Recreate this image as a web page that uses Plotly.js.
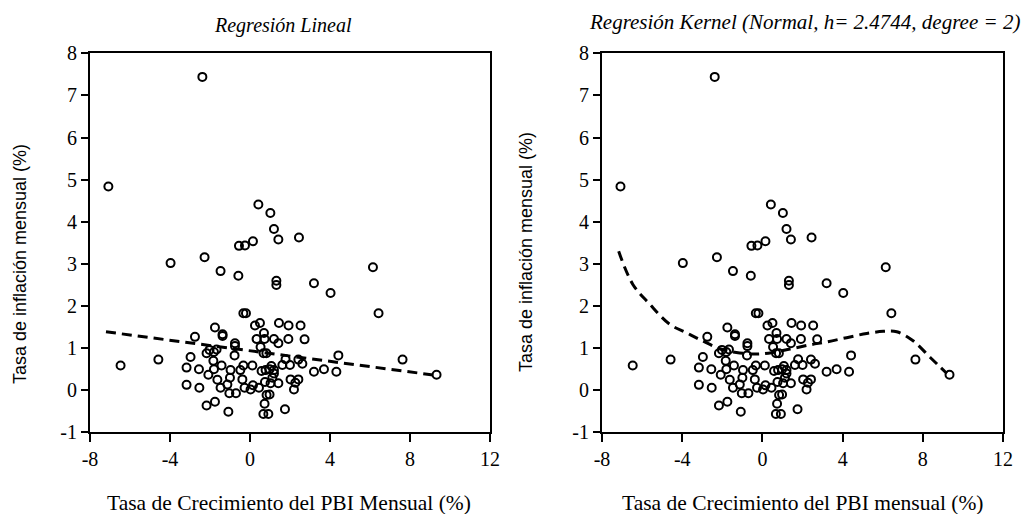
<!DOCTYPE html>
<html>
<head>
<meta charset="utf-8">
<script src="https://cdn.plot.ly/plotly-3.0.1.min.js"></script>
<style>
html,body{margin:0;padding:0;background:#fff;}
#chart{width:1033px;height:514px;}
</style>
</head>
<body>
<div id="chart"></div>
<script>
// Scatter data: monthly GDP growth (%) vs monthly inflation (%)
var gdpGrowth = [-2.38,-7.08,-6.47,-4.58,-3.97,-2.27,-1.47,-0.58,-0.55,-0.25,0.15,0.42,1.02,1.2,1.42,2.45,1.32,1.32,3.2,4.03,6.15,6.43,7.63,9.33,4.42,4.32,3.7,3.2,2.73,2.53,2.62,2.42,1.93,1.92,1.45,1.42,1.2,0.5,0.25,0.33,0.7,0.73,0.53,0.82,0.68,-0.33,-0.2,-1.75,-1.37,-1.37,-2.75,-0.75,-0.75,-0.77,-2.17,-1.67,-1.8,-2.02,-2.97,-3.17,-2.55,-1.83,-1.8,-2.08,-1.42,-1.63,-1.47,-3.17,-2.53,-2.17,-1.75,-1.08,-1.03,-0.7,-0.97,-1.0,-1.13,-0.48,-0.38,-0.27,-0.33,0.12,0.03,0.15,0.45,0.58,0.78,0.98,1.2,0.75,1.03,1.42,0.83,0.98,0.73,0.67,0.92,1.75,1.78,1.62,2.0,2.03,2.2,2.42,2.27,1.07,1.2,1.12];
var inflation = [7.44,4.84,0.59,0.73,3.02,3.16,2.83,2.72,3.43,3.44,3.54,4.41,4.21,3.83,3.58,3.63,2.6,2.5,2.54,2.31,2.92,1.83,0.73,0.37,0.83,0.44,0.5,0.44,1.21,1.54,0.63,0.73,1.54,1.22,1.6,1.12,1.22,1.6,1.54,1.22,1.36,1.22,1.03,0.88,0.88,1.83,1.83,1.49,1.33,1.29,1.27,1.12,1.05,0.83,0.88,0.97,0.91,0.96,0.79,0.54,0.5,0.7,0.5,0.37,0.59,0.25,0.06,0.13,0.06,-0.36,-0.27,-0.51,-0.07,-0.07,0.48,0.3,0.14,0.48,0.26,0.06,0.59,0.59,0.02,0.12,0.06,0.46,0.48,0.5,0.48,0.2,0.17,0.17,-0.11,-0.1,-0.32,-0.56,-0.56,-0.45,0.74,0.6,0.6,0.26,0.02,0.26,0.18,0.58,0.4,0.3];

// Linear regression fit line
var linX = [-7.2, 9.4];
var linY = [1.39, 0.35];

// Kernel regression fit curve
var kerX = [-7.17,-6.47,-5.63,-4.63,-3.8,-2.97,-2.13,-1.3,-0.3,0.53,1.37,2.37,3.2,4.2,5.2,6.03,6.7,7.53,8.37,9.2];
var kerY = [3.30,2.52,2.05,1.57,1.37,1.17,0.99,0.90,0.86,0.90,0.98,1.08,1.15,1.25,1.35,1.40,1.39,1.17,0.78,0.40];

// Tick values and labels
var xTicks = [-8,-4,0,4,8,12];
var xTickLabels = ['-8','-4','0','4','8','12'];
var yTicks = [-1,0,1,2,3,4,5,6,7,8];
var yTickLabels = ['-1','0','1','2','3','4','5','6','7','8'];

var titles = ['Regresión Lineal', 'Regresión Kernel (Normal, h= 2.4744, degree = 2)'];
var xTitles = ['Tasa de Crecimiento del PBI Mensual (%)', 'Tasa de Crecimiento del PBI mensual (%)'];
var yTitle = 'Tasa de inflación mensual (%)';

var serif = 'Liberation Serif';
var sans = 'Liberation Sans';

var markerStyle = {symbol:'circle-open', size:8, color:'#000', line:{width:2, color:'#000'}};
var lineStyle = {color:'#000', width:3, dash:'10px,6px'};

var traces = [
  {x:gdpGrowth, y:inflation, type:'scatter', mode:'markers', marker:markerStyle, xaxis:'x', yaxis:'y', showlegend:false, hoverinfo:'none'},
  {x:linX, y:linY, type:'scatter', mode:'lines', line:lineStyle, xaxis:'x', yaxis:'y', showlegend:false},
  {x:gdpGrowth, y:inflation, type:'scatter', mode:'markers', marker:markerStyle, xaxis:'x2', yaxis:'y2', showlegend:false, hoverinfo:'none'},
  {x:kerX, y:kerY, type:'scatter', mode:'lines', line:Object.assign({}, lineStyle, {shape:'spline'}), xaxis:'x2', yaxis:'y2', showlegend:false}
];

var tickFont = {family:serif, size:20, color:'#000'};

function xa(dom, anchor){
  return {domain:dom, anchor:anchor, range:[-8,12], tickmode:'array', tickvals:xTicks, ticktext:xTickLabels,
    showline:true, mirror:true, linecolor:'#000', linewidth:2, ticks:'outside', ticklen:8, tickwidth:2, tickcolor:'#000',
    showgrid:false, zeroline:false, tickfont:tickFont};
}
function ya(anchor){
  return {domain:[0.1586,0.8963], anchor:anchor, range:[-1,8], tickmode:'array', tickvals:yTicks, ticktext:yTickLabels,
    showline:true, mirror:true, linecolor:'#000', linewidth:2, ticks:'outside', ticklen:7, tickwidth:2, tickcolor:'#000',
    showgrid:false, zeroline:false, tickfont:tickFont};
}

var layout = {
  width:1033, height:514,
  margin:{l:0, r:0, t:0, b:0},
  font:{family:serif, size:20, color:'#000'},
  paper_bgcolor:'#fff', plot_bgcolor:'#fff',
  xaxis:xa([0.0871,0.4743],'y'),
  yaxis:ya('x'),
  xaxis2:xa([0.5828,0.9710],'y2'),
  yaxis2:ya('x2'),
  annotations:[
    {text:'<i>'+titles[0]+'</i>', xref:'paper', yref:'paper', x:283/1033, y:1-25/514, xanchor:'center', yanchor:'middle', showarrow:false, font:{family:serif, size:20, color:'#000'}},
    {text:'<i>'+titles[1]+'</i>', xref:'paper', yref:'paper', x:804/1033, y:1-22/514, xanchor:'center', yanchor:'middle', showarrow:false, font:{family:serif, size:21, color:'#000'}},
    {text:xTitles[0], xref:'paper', yref:'paper', x:289/1033, y:1-503/514, xanchor:'center', yanchor:'middle', showarrow:false, font:{family:serif, size:21.5, color:'#000'}},
    {text:xTitles[1], xref:'paper', yref:'paper', x:803/1033, y:1-503/514, xanchor:'center', yanchor:'middle', showarrow:false, font:{family:serif, size:21.5, color:'#000'}},
    {text:yTitle, xref:'paper', yref:'paper', x:20/1033, y:1-264/514, xanchor:'center', yanchor:'middle', textangle:-90, showarrow:false, font:{family:sans, size:18, color:'#000'}},
    {text:yTitle, xref:'paper', yref:'paper', x:526/1033, y:1-252/514, xanchor:'center', yanchor:'middle', textangle:-90, showarrow:false, font:{family:sans, size:18, color:'#000'}}
  ]
};

Plotly.newPlot('chart', traces, layout, {staticPlot:true, displayModeBar:false});
</script>
</body>
</html>
